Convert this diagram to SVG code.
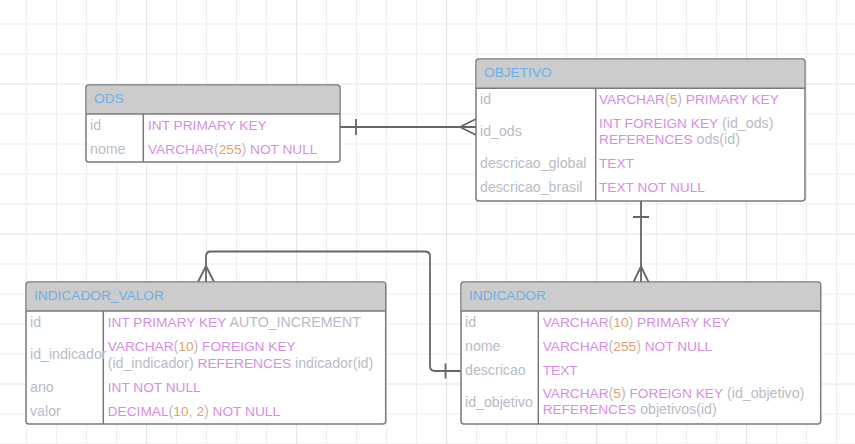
<svg xmlns="http://www.w3.org/2000/svg" width="855" height="444" viewBox="0 0 855 444">
<defs>
<style>
.grid{stroke:#ececec;stroke-width:1;fill:none}
.gridm{stroke:#e2e2e2;stroke-width:1;fill:none}
.tbl{fill:#ffffff;stroke:#7a7a7a;stroke-width:1.5}
.hdr{fill:#cccccc}
.sep{stroke:#7a7a7a;stroke-width:1.5;fill:none}
text{font-family:"Liberation Sans",Arial,sans-serif;font-size:13.7px}
.ttl{fill:#6cb0ea}
.fld{fill:#b8bcc6;font-size:14.2px}
.ty{fill:#d68ee4}
.nm{fill:#e3a06c}
.gy{fill:#b8bcc6;font-size:14.2px}
.conn{stroke:#666666;stroke-width:1.8;fill:none}
</style>
</defs>
<rect width="855" height="444" fill="#ffffff"/>
<g id="grid">
<path class="grid" d="M26.7,0V444M56.7,0V444M86.7,0V444M116.7,0V444M176.7,0V444M206.7,0V444M236.7,0V444M266.7,0V444M326.7,0V444M356.7,0V444M386.7,0V444M416.7,0V444M476.7,0V444M506.7,0V444M536.7,0V444M566.7,0V444M626.7,0V444M656.7,0V444M686.7,0V444M716.7,0V444M776.7,0V444M806.7,0V444M836.7,0V444M0,24H855M0,54H855M0,114H855M0,144H855M0,174H855M0,204H855M0,264H855M0,294H855M0,324H855M0,354H855M0,414H855M0,444H855"/>
<path class="gridm" d="M146.7,0V444M296.7,0V444M446.7,0V444M596.7,0V444M746.7,0V444M0,84H855M0,234H855M0,384H855"/>
</g>
<g id="connectors">
<path class="conn" d="M340,127H476M356,119V135M460,127L476,119M460,127L476,135"/>
<path class="conn" d="M641,201V282M633,217H649M641,266.5L633.5,282M641,266.5L648.5,282"/>
<path class="conn" d="M461,371H435Q430,371 430,366V256.5Q430,251.5 425,251.5H211Q206,251.5 206,256.5V282M445.5,363.5V378.5M206,266L198,282M206,266L214,282"/>
</g>
<g id="ods">
<rect class="tbl" x="86" y="85" width="254" height="77" rx="3"/>
<path class="hdr" d="M89,85.75H337Q339.25,85.75 339.25,88V114H86.75V88Q86.75,85.75 89,85.75Z"/>
<path class="sep" d="M86,114H340M143.3,114V162"/>
<text class="ttl" x="94" y="103">ODS</text>
<text class="fld" x="90" y="129.5">id</text>
<text class="ty" x="148" y="129.5">INT PRIMARY KEY</text>
<text class="fld" x="90" y="154">nome</text>
<text x="148" y="154"><tspan class="ty">VARCHAR</tspan><tspan class="gy">(</tspan><tspan class="nm">255</tspan><tspan class="gy">)</tspan><tspan class="ty"> NOT NULL</tspan></text>
</g>
<g id="objetivo">
<rect class="tbl" x="476" y="59" width="329" height="142" rx="3"/>
<path class="hdr" d="M479,59.75H802Q804.25,59.75 804.25,62V88.3H476.75V62Q476.75,59.75 479,59.75Z"/>
<path class="sep" d="M476,88.3H805M595.7,88.3V201"/>
<text class="ttl" x="484" y="76.5">OBJETIVO</text>
<text class="fld" x="480" y="103.5">id</text>
<text x="599" y="103.5"><tspan class="ty">VARCHAR</tspan><tspan class="gy">(</tspan><tspan class="nm">5</tspan><tspan class="gy">)</tspan><tspan class="ty"> PRIMARY KEY</tspan></text>
<text class="fld" x="480" y="136">id_ods</text>
<text x="599" y="127.7"><tspan class="ty">INT FOREIGN KEY</tspan><tspan class="gy"> (id_ods)</tspan></text>
<text x="599" y="144.3"><tspan class="ty">REFERENCES</tspan><tspan class="gy"> ods(id)</tspan></text>
<text class="fld" x="480" y="168.3">descricao_global</text>
<text class="ty" x="599" y="168.3">TEXT</text>
<text class="fld" x="480" y="192.3">descricao_brasil</text>
<text class="ty" x="599" y="192.3">TEXT NOT NULL</text>
</g>
<g id="indicador_valor">
<rect class="tbl" x="26" y="282" width="359.7" height="142" rx="3"/>
<path class="hdr" d="M29,282.75H382.7Q384.95,282.75 384.95,285V311H26.75V285Q26.75,282.75 29,282.75Z"/>
<path class="sep" d="M26,311H385.7M103.3,311V424"/>
<text class="ttl" x="34" y="300">INDICADOR_VALOR</text>
<text class="fld" x="30" y="326.7">id</text>
<text x="107.7" y="326.7"><tspan class="ty">INT PRIMARY KEY</tspan><tspan class="gy"> AUTO_INCREMENT</tspan></text>
<text class="fld" x="30" y="359">id_indicador</text>
<text x="107.7" y="351"><tspan class="ty">VARCHAR</tspan><tspan class="gy">(</tspan><tspan class="nm">10</tspan><tspan class="gy">)</tspan><tspan class="ty"> FOREIGN KEY</tspan></text>
<text x="107.7" y="367.7"><tspan class="gy">(id_indicador) </tspan><tspan class="ty">REFERENCES</tspan><tspan class="gy"> indicador(id)</tspan></text>
<text class="fld" x="30" y="391.7">ano</text>
<text class="ty" x="107.7" y="391.7">INT NOT NULL</text>
<text class="fld" x="30" y="415.7">valor</text>
<text x="107.7" y="415.7"><tspan class="ty">DECIMAL</tspan><tspan class="gy">(</tspan><tspan class="nm">10</tspan><tspan class="gy">, </tspan><tspan class="nm">2</tspan><tspan class="gy">)</tspan><tspan class="ty"> NOT NULL</tspan></text>
</g>
<g id="indicador">
<rect class="tbl" x="461" y="282" width="359.7" height="142" rx="3"/>
<path class="hdr" d="M464,282.75H817.7Q819.95,282.75 819.95,285V311H461.75V285Q461.75,282.75 464,282.75Z"/>
<path class="sep" d="M461,311H820.7M538.3,311V424"/>
<text class="ttl" x="469" y="300">INDICADOR</text>
<text class="fld" x="465" y="326.7">id</text>
<text x="542.7" y="326.7"><tspan class="ty">VARCHAR</tspan><tspan class="gy">(</tspan><tspan class="nm">10</tspan><tspan class="gy">)</tspan><tspan class="ty"> PRIMARY KEY</tspan></text>
<text class="fld" x="465" y="351">nome</text>
<text x="542.7" y="351"><tspan class="ty">VARCHAR</tspan><tspan class="gy">(</tspan><tspan class="nm">255</tspan><tspan class="gy">)</tspan><tspan class="ty"> NOT NULL</tspan></text>
<text class="fld" x="465" y="375">descricao</text>
<text class="ty" x="542.7" y="375">TEXT</text>
<text class="fld" x="465" y="406.7">id_objetivo</text>
<text x="542.7" y="398.3"><tspan class="ty">VARCHAR</tspan><tspan class="gy">(</tspan><tspan class="nm">5</tspan><tspan class="gy">)</tspan><tspan class="ty"> FOREIGN KEY</tspan><tspan class="gy"> (id_objetivo)</tspan></text>
<text x="542.7" y="414.3"><tspan class="ty">REFERENCES</tspan><tspan class="gy"> objetivos(id)</tspan></text>
</g>
</svg>
